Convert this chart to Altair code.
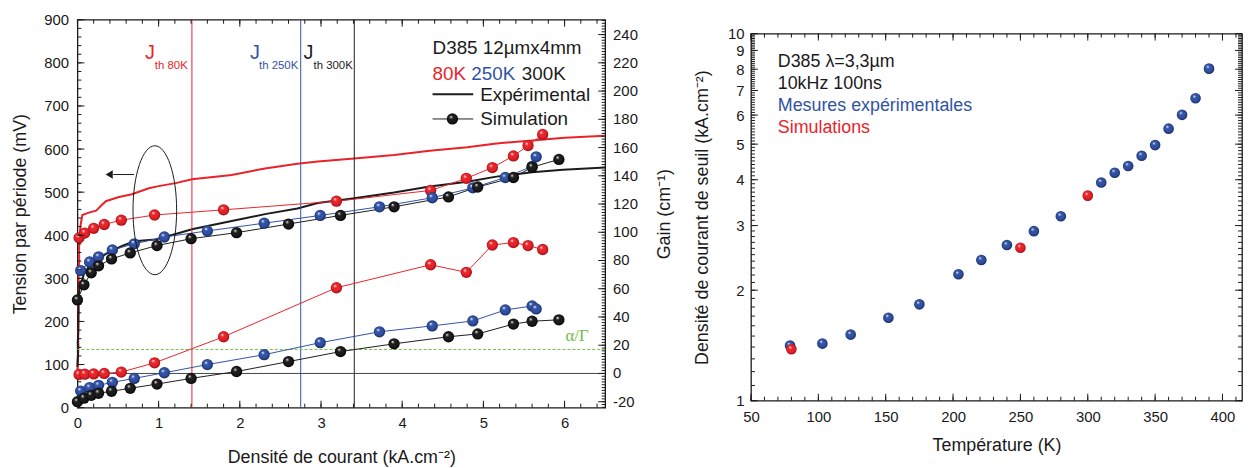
import altair as alt
import pandas as pd

FONT = "Liberation Sans"
RED, RED_D = "#e8232a", "#8e0c10"
BLUE, BLUE_D = "#3152a4", "#15245a"
BLACK, BLACK_D = "#1c1c1c", "#000000"
GREEN = "#74b94c"
TXT = "#1a1a1a"

# ---------------- Left panel data ----------------
# experimental voltage curves (mV) vs current density (kA/cm2)
red_exp_J = [0.0, 0.005, 0.012, 0.008, 0.015, 0.01, 0.018, 0.014, 0.022, 0.02, 0.028, 0.04, 0.06, 0.15,
             0.23, 0.3, 0.35, 0.5, 0.67, 0.88, 1.0, 1.21, 1.41, 1.9, 2.31, 2.71, 2.96, 3.41, 3.9, 4.34,
             4.8, 5.16, 5.6, 6.0, 6.5]
red_exp_V = [85, 110, 140, 170, 200, 235, 270, 305, 340, 370, 400, 425, 447, 453, 457, 470, 479, 488,
             495, 509, 514, 521, 530, 540, 555, 566, 571, 578, 586, 596, 604, 613, 620, 626, 631]
black_exp_J = [0.0, 0.006, 0.004, 0.01, 0.008, 0.014, 0.012, 0.02, 0.03, 0.05, 0.08, 0.15, 0.25, 0.4,
               0.55, 0.7, 0.96, 1.21, 1.41, 1.9, 2.31, 2.71, 2.96, 3.41, 3.9, 4.34, 4.8, 5.16, 5.6,
               5.98, 6.5]
black_exp_V = [95, 125, 150, 175, 200, 225, 250, 268, 282, 292, 310, 330, 345, 362, 375, 386, 390, 403,
               414, 433, 449, 462, 475, 486, 499, 513, 524, 536, 546, 552, 557]

# simulations: voltage (mV) and gain (cm-1)
red_sim_J = [0.02, 0.09, 0.2, 0.33, 0.54, 0.95, 1.8, 3.19, 4.35, 4.79, 5.11, 5.37, 5.55, 5.73]
red_sim_V = [394, 405, 416, 425, 435, 447, 459, 479, 504, 532, 557, 584, 608, 634]
red_sim_G = [-0.7, -0.5, -0.3, 0.0, 1.0, 7.5, 26, 60.7, 77, 71.6, 91, 92.7, 90.6, 87.8]

blue_sim_J = [0.04, 0.15, 0.26, 0.43, 0.7, 1.07, 1.6, 2.3, 2.99, 3.72, 4.37, 4.87, 5.27, 5.6, 5.65]
blue_sim_V = [318, 338, 350, 366, 380, 396, 410, 428, 446, 466, 487, 510, 534, 560, 582]
blue_sim_G = [-12.5, -10, -8.4, -6.3, -3.5, 0.5, 6.3, 13.3, 21.8, 29.5, 33.7, 37.2, 45, 47.8, 45.7]

black_sim_J = [0.0, 0.08, 0.17, 0.26, 0.42, 0.65, 0.98, 1.4, 1.96, 2.6, 3.24, 3.9, 4.57, 4.93, 5.37, 5.6, 5.93]
black_sim_V = [250, 285, 313, 329, 345, 359, 376, 392, 406, 426, 446, 466, 489, 512, 534, 558, 576]
black_sim_G = [-20, -17.5, -15.5, -14, -12.6, -10.5, -7.5, -3.5, 1.4, 8.4, 15.5, 21, 26, 28, 35, 37, 38]

jth_J = [1.41, 2.75, 3.41]
jth_colors = [RED, BLUE, BLACK]
alpha_gamma = [17]
gain_zero = [0]

# ---------------- Right panel data ----------------
meas_T = [79, 103, 124, 152, 175, 204, 221, 240, 260, 280, 310, 320, 330, 340, 350, 360, 370, 380, 390]
meas_J = [1.413, 1.431, 1.514, 1.683, 1.83, 2.21, 2.417, 2.655, 2.897, 3.18, 3.93, 4.18, 4.36, 4.65,
          4.97, 5.51, 6.01, 6.67, 8.03]
sim_T = [80, 250, 300]
sim_J = [1.381, 2.61, 3.62]

# tick labels / tick positions
xL_labels = [0, 1, 2, 3, 4, 5, 6]
xL_minor = [round(0.2 * i, 1) for i in range(33)]
v_labels = list(range(0, 901, 100))
v_minor = list(range(0, 901, 20))
g_labels = list(range(-20, 241, 20))
g_label_text = [str(v) for v in g_labels]
g_minor = list(range(-24, 251, 2))
t_labels = list(range(50, 401, 50))
t_minor = list(range(50, 411, 10))
j_labels = [1, 2, 3, 4, 5, 6, 7, 8, 9, 10]
j_minor = [round(1 + 0.1 * i, 1) for i in range(91)]

W1, H1 = 532, 391
W2, H2 = 495, 370
one = pd.DataFrame({"a": [0]})

xs = alt.Scale(domain=[0, 6.5], nice=False, zero=False)
ys_v = alt.Scale(domain=[0, 900], nice=False, zero=False)
ys_g = alt.Scale(domain=[-24.2, 250.5], nice=False, zero=False)
xs_t = alt.Scale(domain=[50, 414.5], nice=False, zero=False)
ys_j = alt.Scale(type="log", domain=[1, 10], nice=False)


def ax(axis):
    return {"axis": axis} if axis is not None else {}


def grad(main, dark):
    return alt.RadialGradient(
        gradient="radial", x1=0.36, y1=0.3, r1=0.0, x2=0.5, y2=0.5, r2=0.55,
        stops=[alt.GradientStop(color="#ffffff", offset=0.0),
               alt.GradientStop(color=main, offset=0.3),
               alt.GradientStop(color=main, offset=0.62),
               alt.GradientStop(color=dark, offset=1.0)])


def text(t, x, y, size, color=TXT, align="left", font=FONT):
    return alt.Chart(one).mark_text(text=t, align=align, baseline="middle", fontSize=size,
                                    color=color, font=font).encode(x=alt.value(x), y=alt.value(y))


def prule(x, x2, y, color, width):
    return alt.Chart(one).mark_rule(color=color, strokeWidth=width).encode(
        x=alt.value(x), x2=alt.value(x2), y=alt.value(y))


def line(X, Y, xf, yf, xsc, ysc, color, width, xaxis=None, yaxis=None):
    d = pd.DataFrame({xf: X, yf: Y, "i": list(range(len(X)))})
    return alt.Chart(d).mark_line(color=color, strokeWidth=width).encode(
        x=alt.X(f"{xf}:Q", scale=xsc, **ax(xaxis)),
        y=alt.Y(f"{yf}:Q", scale=ysc, **ax(yaxis)),
        order=alt.Order("i:Q"))


def balls(X, Y, xf, yf, xsc, ysc, main, dark, size, xaxis=None, yaxis=None):
    d = pd.DataFrame({xf: X, yf: Y})
    return alt.Chart(d).mark_circle(fill=grad(main, dark), size=size, opacity=1).encode(
        x=alt.X(f"{xf}:Q", scale=xsc, **ax(xaxis)),
        y=alt.Y(f"{yf}:Q", scale=ysc, **ax(yaxis)))


def xticks(vals, xf, xsc, H, L):
    d = pd.DataFrame({xf: vals})
    base = alt.Chart(d).mark_rule(color=TXT, strokeWidth=1)
    return [base.encode(x=alt.X(f"{xf}:Q", scale=xsc), y=alt.value(H), y2=alt.value(H - L)),
            base.encode(x=alt.X(f"{xf}:Q", scale=xsc), y=alt.value(0), y2=alt.value(L))]


def yticks(vals, yf, ysc, W, L, left=True, right=True):
    d = pd.DataFrame({yf: vals})
    base = alt.Chart(d).mark_rule(color=TXT, strokeWidth=1)
    out = []
    if left:
        out.append(base.encode(y=alt.Y(f"{yf}:Q", scale=ysc), x=alt.value(0), x2=alt.value(L)))
    if right:
        out.append(base.encode(y=alt.Y(f"{yf}:Q", scale=ysc), x=alt.value(W), x2=alt.value(W - L)))
    return out


# ---------------- Left panel ----------------
x_axis_L = alt.Axis(values=xL_labels, format="d", labelPadding=8, labelOverlap=False,
                    title="Densité de courant (kA.cm⁻²)", titlePadding=18)
v_axis = alt.Axis(values=v_labels, format="d", labelPadding=9, labelOverlap=False,
                  title="Tension par période (mV)", titlePadding=14)
g_axis = alt.Axis(values=g_labels, orient="right", labels=False,
                  title="Gain (cm⁻¹)", titlePadding=51, titleAngle=270, titleBaseline="top")

jth_df = pd.DataFrame({"J": jth_J, "c": jth_colors})
vlines = alt.Chart(jth_df).mark_rule(strokeWidth=1).encode(
    x=alt.X("J:Q", scale=xs), color=alt.Color("c:N", scale=None))

mv_group = alt.layer(
    line(red_exp_J, red_exp_V, "J", "V", xs, ys_v, RED, 2, xaxis=x_axis_L, yaxis=v_axis),
    line(black_exp_J, black_exp_V, "J", "V", xs, ys_v, BLACK, 2),
    vlines,
    line(red_sim_J, red_sim_V, "J", "V", xs, ys_v, RED, 1),
    line(blue_sim_J, blue_sim_V, "J", "V", xs, ys_v, BLUE, 1),
    line(black_sim_J, black_sim_V, "J", "V", xs, ys_v, BLACK, 1),
    balls(red_sim_J, red_sim_V, "J", "V", xs, ys_v, RED, RED_D, 130),
    balls(blue_sim_J, blue_sim_V, "J", "V", xs, ys_v, BLUE, BLUE_D, 130),
    balls(black_sim_J, black_sim_V, "J", "V", xs, ys_v, BLACK, BLACK_D, 130),
    *yticks(v_labels, "V", ys_v, W1, 7, right=False),
    *yticks(v_minor, "V", ys_v, W1, 4, right=False),
)

g0 = alt.Chart(pd.DataFrame({"G": gain_zero})).mark_rule(color="#444444", strokeWidth=1).encode(
    y=alt.Y("G:Q", scale=ys_g, axis=g_axis))
ag = alt.Chart(pd.DataFrame({"G": alpha_gamma})).mark_rule(color=GREEN, strokeWidth=1, strokeDash=[3, 2]).encode(
    y=alt.Y("G:Q", scale=ys_g))
g_lab = alt.Chart(pd.DataFrame({"G": g_labels, "lab": g_label_text})).mark_text(
    align="left", baseline="middle", fontSize=15, color=TXT, dx=8).encode(
    y=alt.Y("G:Q", scale=ys_g), x=alt.value(W1), text="lab:N")

gain_group = alt.layer(
    g0, ag,
    line(red_sim_J, red_sim_G, "J", "G", xs, ys_g, RED, 1),
    line(blue_sim_J, blue_sim_G, "J", "G", xs, ys_g, BLUE, 1),
    line(black_sim_J, black_sim_G, "J", "G", xs, ys_g, BLACK, 1),
    balls(red_sim_J, red_sim_G, "J", "G", xs, ys_g, RED, RED_D, 130),
    balls(blue_sim_J, blue_sim_G, "J", "G", xs, ys_g, BLUE, BLUE_D, 130),
    balls(black_sim_J, black_sim_G, "J", "G", xs, ys_g, BLACK, BLACK_D, 130),
    *yticks(g_labels, "G", ys_g, W1, 7, left=False),
    *yticks(g_minor, "G", ys_g, W1, 3.5, left=False),
    g_lab,
)

ellipse = alt.Chart(one).mark_point(
    shape="M0,-1A0.3385,1 0 1,1 0,1A0.3385,1 0 1,1 0,-1Z", size=16900, filled=False,
    stroke=TXT, strokeWidth=1, opacity=1).encode(x=alt.value(78), y=alt.value(192))
arrow_head = alt.Chart(one).mark_point(shape="triangle-left", filled=True, size=70, color=TXT,
                                       opacity=1).encode(x=alt.value(32), y=alt.value(156))
legend_ball = alt.Chart(one).mark_circle(fill=grad(BLACK, BLACK_D), size=130, opacity=1).encode(
    x=alt.value(378), y=alt.value(100))

left = alt.layer(
    mv_group, gain_group,
    *xticks(xL_labels, "J", xs, H1, 7),
    *xticks(xL_minor, "J", xs, H1, 4),
    ellipse, prule(36, 57, 156, TXT, 1), arrow_head,
    text("J", 68, 34, 20, RED), text("th 80K", 78, 47, 11.5, RED),
    text("J", 174, 34, 20, BLUE), text("th 250K", 183, 47, 11.5, BLUE),
    text("J", 228, 34, 20, BLACK), text("th 300K", 238, 47, 11.5, BLACK),
    text("D385 12µmx4mm", 358, 29, 19),
    text("80K", 358, 55, 19, RED), text("250K", 397, 55, 19, BLUE), text("300K", 448, 55, 19, BLACK),
    prule(358, 399, 75, BLACK, 2), text("Expérimental", 406, 76, 19),
    prule(358, 399, 100, BLACK, 1), legend_ball, text("Simulation", 406, 100, 19),
    text("α/Γ", 492, 319, 17, GREEN, font="Liberation Serif"),
).resolve_scale(y="independent").properties(width=W1, height=H1)

# ---------------- Right panel ----------------
t_axis = alt.Axis(values=t_labels, format="d", labelPadding=9, labelOverlap=False,
                  title="Température (K)", titlePadding=12)
j_axis = alt.Axis(values=j_labels, format="d", labelPadding=7, labelOverlap=False,
                  title="Densité de courant de seuil (kA.cm⁻²)", titlePadding=16)

right = alt.layer(
    balls(meas_T, meas_J, "T", "Jth", xs_t, ys_j, BLUE, BLUE_D, 115, xaxis=t_axis, yaxis=j_axis),
    balls(sim_T, sim_J, "T", "Jth", xs_t, ys_j, RED, RED_D, 115),
    *xticks(t_labels, "T", xs_t, H2, 7),
    *xticks(t_minor, "T", xs_t, H2, 4),
    *yticks(j_labels, "Jth", ys_j, W2, 7),
    *yticks(j_minor, "Jth", ys_j, W2, 4),
    text("D385 λ=3,3µm", 27, 29, 18),
    text("10kHz 100ns", 27, 51, 18),
    text("Mesures expérimentales", 27, 73, 18, BLUE),
    text("Simulations", 27, 95, 18, RED),
).properties(width=W2, height=H2)

spacer = alt.Chart(one).mark_text(text=" ").encode(x=alt.value(0), y=alt.value(0)).properties(
    width=W2, height=1, view=alt.ViewBackground(stroke="transparent"))

chart = alt.hconcat(left, alt.vconcat(spacer, right, spacing=0), spacing=18).properties(
    padding={"left": 3, "top": 2, "right": 0, "bottom": 0}
).configure_view(stroke=TXT, strokeWidth=1.3).configure_axis(
    labelFont=FONT, titleFont=FONT, labelFontSize=15, titleFontSize=18, titleFontWeight="normal",
    labelColor=TXT, titleColor=TXT, grid=False, ticks=False, tickSize=0, domain=False,
    labelFlush=False, labelOverlap=False
).configure_text(font=FONT)

chart.save("out.html", embed_options={"renderer": "svg", "actions": False})
